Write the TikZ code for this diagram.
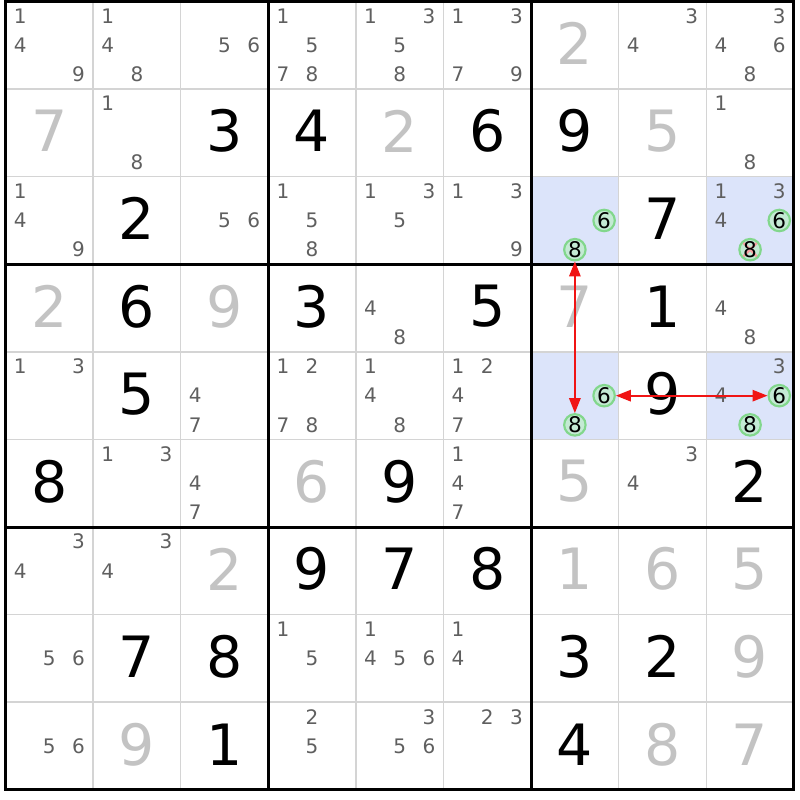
\documentclass[tikz,border=0pt]{standalone}
\usepackage{fontspec}
\setsansfont{DejaVu Sans}
\usepackage{tikz}
\usetikzlibrary{arrows.meta}
\definecolor{sdBlue}{RGB}{220,228,250}
\definecolor{sdRed}{RGB}{240,20,20}
\definecolor{sdGray}{RGB}{95,95,95}
\definecolor{sdLight}{RGB}{195,195,195}
\definecolor{sdLine}{RGB}{212,212,212}
\definecolor{sdGreen}{RGB}{130,215,140}
\definecolor{sdMint}{RGB}{196,234,212}
\tikzset{
    base/.style={font=\sffamily, inner sep=0pt},
    given/.style={base, font=\sffamily\fontsize{37}{37}\selectfont, text=black},
    solved/.style={given, text=sdLight},
    pencil/.style={base, font=\sffamily\fontsize{13}{13}\selectfont, text=sdGray},
    circled/.style={pencil, font=\sffamily\fontsize{14}{14}\selectfont, circle,
                    draw=sdGreen, line width=1.4pt, fill=sdMint, text=black,
                    minimum size=4.9mm},
    gone/.style={circled, path picture={
        \draw[sdRed!40, line width=1.5pt]
          (path picture bounding box.north west) -- (path picture bounding box.south east)
          (path picture bounding box.north east) -- (path picture bounding box.south west);}},
    cellline/.style={draw=sdLine, line width=1pt},
    boxline/.style={draw=black, line width=2pt},
    flow/.style={<->, >={Triangle[length=3.4mm,width=2.6mm]}, line width=1.1pt, color=sdRed}
}

\begin{document}
\begin{tikzpicture}[x=2cm, y=-2cm]
  \useasboundingbox (-0.063,-0.017) rectangle (9.07,9.116);

  % Highlighted cells
  \foreach \r/\c in {3/7, 3/9, 5/7, 5/9}
    \fill[sdBlue] (\c-1,\r-1) rectangle (\c,\r);

  % Grid
  \foreach \i in {1,...,8} {
    \draw[cellline] (\i,0) -- (\i,9);
    \draw[cellline] (0,\i) -- (9,\i);
  }
  \foreach \i in {3,6} {
    \draw[boxline] (\i,0) -- (\i,9);
    \draw[boxline] (0,\i) -- (9,\i);
  }
  \draw[boxline] (0,0) rectangle (9,9);

  % Givens
  \foreach \r/\c/\v in {2/3/3, 2/4/4, 2/6/6, 2/7/9, 3/2/2, 3/8/7, 4/2/6, 4/4/3,
                        4/6/5, 4/8/1, 5/2/5, 5/8/9, 6/1/8, 6/5/9, 6/9/2, 7/4/9,
                        7/5/7, 7/6/8, 8/2/7, 8/3/8, 8/7/3, 8/8/2, 9/3/1, 9/7/4}
    \node[given] (n\r\c) at (\c-0.5,\r-0.52) {\v};

  % Solved
  \foreach \r/\c/\v in {1/7/2, 2/1/7, 2/5/2, 2/8/5, 4/1/2, 4/3/9, 4/7/7, 6/4/6,
                        6/7/5, 7/3/2, 7/7/1, 7/8/6, 7/9/5, 8/9/9, 9/2/9, 9/8/8,
                        9/9/7}
    \node[solved] (n\r\c) at (\c-0.5,\r-0.52) {\v};

  % Candidates
  \foreach \r/\c/\ds in {1/1/{1,4,9}, 1/2/{1,4,8}, 1/3/{5,6}, 1/4/{1,5,7,8},
                         1/5/{1,3,5,8}, 1/6/{1,3,7,9}, 1/8/{3,4}, 1/9/{3,4,6,8},
                         2/2/{1,8}, 2/9/{1,8},
                         3/1/{1,4,9}, 3/3/{5,6}, 3/4/{1,5,8}, 3/5/{1,3,5},
                         3/6/{1,3,9}, 3/9/{1,3,4},
                         4/5/{4,8}, 4/9/{4,8},
                         5/1/{1,3}, 5/3/{4,7}, 5/4/{1,2,7,8}, 5/5/{1,4,8},
                         5/6/{1,2,4,7}, 5/9/{3,4},
                         6/2/{1,3}, 6/3/{4,7}, 6/6/{1,4,7}, 6/8/{3,4},
                         7/1/{3,4}, 7/2/{3,4},
                         8/1/{5,6}, 8/4/{1,5}, 8/5/{1,4,5,6}, 8/6/{1,4},
                         9/1/{5,6}, 9/4/{2,5}, 9/5/{3,5,6}, 9/6/{2,3}}
    \foreach \d in \ds {
      \pgfmathtruncatemacro\dx{mod(\d-1,3)}
      \pgfmathtruncatemacro\dy{div(\d-1,3)}
      \node[pencil] (k\r\c\d) at (\c-1+\dx/3+1/6, \r-1+\dy/3+1/6) {\d};
    }

  % Linked candidates
  \foreach \r/\c/\d/\sty in {3/7/6/circled, 3/7/8/circled, 3/9/6/circled, 3/9/8/gone,
                             5/7/6/circled, 5/7/8/circled, 5/9/6/circled, 5/9/8/circled} {
    \pgfmathtruncatemacro\dx{mod(\d-1,3)}
    \pgfmathtruncatemacro\dy{div(\d-1,3)}
    \node[\sty] (k\r\c\d) at (\c-1+\dx/3+1/6, \r-1+\dy/3+1/6) {\d};
  }

  % Arrows
  \draw[flow] (k378) -- (k578);
  \draw[flow] (k576) -- (k596);
\end{tikzpicture}
\end{document}
